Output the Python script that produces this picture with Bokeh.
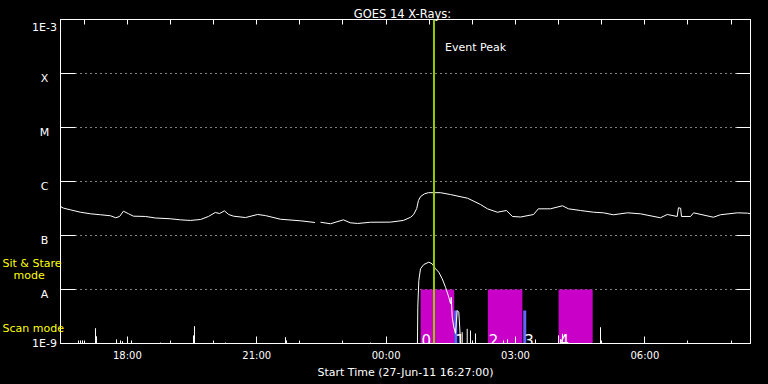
from bokeh.plotting import figure
from bokeh.models import Range1d, LogAxis, LinearAxis, FixedTicker, Span
from bokeh.core.properties import value
from bokeh.embed import file_html
from bokeh.resources import INLINE

NAN = float("nan")

# ---- data (time in hours after 27-Jun-11 16:27:00, flux in W/m^2) ----
long_t = [0.00, 0.07, 0.23, 0.46, 0.70, 0.93, 1.16, 1.28, 1.37, 1.46, 1.58, 1.69,
          1.97, 2.20, 2.55, 2.78, 3.01, 3.25, 3.43, 3.59, 3.69, 3.80, 3.90, 4.01,
          4.29, 4.57, 4.75, 5.10, 5.57, 5.90, 5.95, 6.03, 6.26, 6.56, 6.72, 6.89,
          7.19, 7.65, 7.95, 8.12, 8.19, 8.26, 8.30, 8.35, 8.44, 8.53, 8.81, 9.04,
          9.44, 9.74, 9.90, 10.13, 10.34, 10.48, 10.67, 10.97, 11.08, 11.36, 11.64,
          11.78, 12.06, 12.36, 12.59, 12.82, 13.15, 13.45, 13.91, 14.07, 14.30,
          14.33, 14.38, 14.40, 14.61, 14.68, 15.14, 15.30, 15.70, 15.93, 16.00]
long_flux = [3.44e-7, 3.21e-7, 2.99e-7, 2.70e-7, 2.52e-7, 2.42e-7, 2.32e-7, 2.13e-7,
             2.25e-7, 2.82e-7, 2.52e-7, 2.28e-7, 2.25e-7, 2.11e-7, 2.04e-7, 1.95e-7,
             1.90e-7, 1.98e-7, 2.25e-7, 2.67e-7, 2.55e-7, 2.86e-7, 2.45e-7, 2.28e-7,
             2.15e-7, 2.45e-7, 2.34e-7, 2.00e-7, 1.87e-7, 1.74e-7, NAN, 1.76e-7,
             1.65e-7, 1.95e-7, 1.72e-7, 1.67e-7, 1.76e-7, 1.77e-7, 1.90e-7, 2.18e-7,
             2.45e-7, 3.16e-7, 4.45e-7, 5.27e-7, 5.90e-7, 6.21e-7, 6.21e-7, 5.74e-7,
             4.90e-7, 3.75e-7, 3.12e-7, 2.70e-7, 2.90e-7, 2.25e-7, 2.20e-7, 2.45e-7,
             3.12e-7, 3.12e-7, 3.55e-7, 3.12e-7, 2.90e-7, 2.70e-7, 2.63e-7, 2.42e-7,
             2.63e-7, 2.52e-7, 2.13e-7, 2.45e-7, 2.25e-7, 3.26e-7, 3.20e-7, 2.25e-7,
             2.25e-7, 2.63e-7, 2.18e-7, 2.42e-7, 2.63e-7, 2.59e-7, 2.52e-7]

flare_t = [8.267, 8.285, 8.309, 8.348, 8.424, 8.540, 8.619, 8.696, 8.772, 8.851,
           8.928, 9.004, 9.043, 9.060, 9.083, 9.120, 9.159, 9.199, 9.236, 9.275, 9.287]
flare_flux = [1e-10, 4.70e-9, 1.47e-8, 2.42e-8, 2.90e-8, 3.21e-8, 2.99e-8, 2.42e-8,
              2.09e-8, 1.58e-8, 1.10e-8, 7.20e-9, 5.50e-9, 7.20e-9, 3.07e-9, 2.00e-9,
              1.53e-9, 4.08e-9, 3.80e-9, 1.14e-9, 1e-10]

spike_t = [0.417, 0.464, 0.510, 0.812, 0.835, 1.299, 1.391, 1.438, 1.646, 2.319,
           3.084, 3.107, 3.826, 5.217, 5.241, 7.188, 9.315, 9.431, 9.507, 9.623,
           10.272, 10.365, 11.014, 11.548, 11.594, 11.641, 12.522]
spike_flux = [1.14e-9, 1.14e-9, 1.14e-9, 1.92e-9, 1.36e-9, 1.19e-9, 1.14e-9, 1.10e-9,
              1.14e-9, 1.04e-9, 1.41e-9, 2.09e-9, 1.04e-9, 1.31e-9, 1.14e-9, 1.04e-9,
              1.62e-9, 1.87e-9, 1.74e-9, 1.53e-9, 1.14e-9, 1.19e-9, 1.19e-9, 1.41e-9,
              1.20e-9, 1.51e-9, 2.00e-9]

obs_start = [8.35, 9.13, 9.91, 10.73, 11.55]
obs_end = [9.13, 9.20, 10.71, 10.80, 12.34]
obs_mode = ["sit", "scan", "sit", "scan", "sit"]
obs_label = ["0", "1", "2", "3", "4"]
mode_top = {"sit": 1e-8, "scan": 4.1e-9}
mode_color = {"sit": "#c800c8", "scan": "#6464ff"}

event_peak = 8.66

x_major = [1.55, 4.55, 7.55, 10.55, 13.55]
x_major_labels = ["18:00", "21:00", "00:00", "03:00", "06:00"]
x_hours = [0.55, 1.55, 2.55, 3.55, 4.55, 5.55, 6.55, 7.55, 8.55, 9.55, 10.55,
           11.55, 12.55, 13.55, 14.55, 15.55]
y_ticks = [1e-9, 1e-8, 1e-7, 1e-6, 1e-5, 1e-4, 1e-3]
y_tick_labels = ["1E-9", "A", "B", "C", "M", "X", "1E-3"]

# ---- layout helpers (pixel -> data, used only for text placement) ----
X0, PXH = 60.0, 43.125
Y0, PXD = 19.0, 54.0
def px(xp):
    return (xp - X0) / PXH
def py(yp):
    return 10 ** (-3 - (yp - Y0) / PXD)

FONT = "DejaVu Sans"
WHITE = "#ffffff"
YEL = "#ffff00"

p = figure(width=768, height=384, x_range=Range1d(0, 16), y_range=Range1d(1e-9, 1e-3),
           y_axis_type="log", output_backend="svg", toolbar_location=None,
           min_border_left=60, min_border_right=18, min_border_top=19, min_border_bottom=41,
           background_fill_color="black", border_fill_color="black",
           outline_line_color=WHITE, title=None)

# left axis
ax = p.yaxis[0]
ax.ticker = FixedTicker(ticks=y_ticks)
ax.major_label_overrides = {t: "" for t in y_ticks}
ax.major_tick_in = 15
ax.major_tick_out = 0
ax.minor_tick_line_color = None
ax.axis_line_color = WHITE
ax.major_tick_line_color = WHITE
ax.major_label_standoff = 0

# right axis
rx = LogAxis(ticker=FixedTicker(ticks=y_ticks), major_label_overrides={t: "" for t in y_ticks},
             major_tick_in=14, major_tick_out=0, minor_tick_line_color=None,
             axis_line_color=WHITE, major_tick_line_color=WHITE, major_label_standoff=0)
p.add_layout(rx, "right")

# bottom axis
bx = p.xaxis[0]
bx.ticker = FixedTicker(ticks=x_major, minor_ticks=x_hours)
bx.major_label_overrides = dict(zip(x_major, x_major_labels))
bx.major_tick_in = 7
bx.major_tick_out = 0
bx.minor_tick_in = 3
bx.minor_tick_out = 0
bx.axis_line_color = WHITE
bx.major_tick_line_color = WHITE
bx.minor_tick_line_color = WHITE
bx.major_label_text_color = WHITE
bx.major_label_text_font = FONT
bx.major_label_text_font_size = "10px"
bx.major_label_standoff = 6
bx.axis_label = "Start Time (27-Jun-11 16:27:00)"
bx.axis_label_text_color = WHITE
bx.axis_label_text_font = FONT
bx.axis_label_text_font_size = "11px"
bx.axis_label_text_font_style = "normal"
bx.axis_label_standoff = 2

# top axis
tx = LinearAxis(ticker=FixedTicker(ticks=x_hours), major_label_overrides={t: "" for t in x_hours},
                major_tick_in=5, major_tick_out=0, minor_tick_line_color=None,
                axis_line_color=WHITE, major_tick_line_color=WHITE, major_label_standoff=0)
p.add_layout(tx, "above")

# grid
p.xgrid.visible = False
p.ygrid.ticker = FixedTicker(ticks=y_ticks[1:-1])
p.ygrid.grid_line_color = WHITE
p.ygrid.grid_line_dash = "1 4"
p.ygrid.grid_line_width = 1

# observation bars
p.quad(left=obs_start, right=obs_end, bottom=[1e-9] * len(obs_start),
       top=[mode_top[m] for m in obs_mode], fill_color=[mode_color[m] for m in obs_mode],
       line_color=None)
p.text(x=obs_start, y=[py(339)] * len(obs_start), text=obs_label, x_offset=1,
       text_font=value(FONT), text_font_size="15px", text_color=WHITE,
       text_baseline="alphabetic", text_align="left")

# GOES curves
p.line(long_t, long_flux, line_color=WHITE, line_width=1)
p.line(flare_t, flare_flux, line_color=WHITE, line_width=1)
p.segment(x0=spike_t, y0=[1e-9] * len(spike_t), x1=spike_t, y1=spike_flux,
          line_color=WHITE, line_width=1)

# event peak
p.add_layout(Span(location=event_peak, dimension="height", line_color="#99cc00", line_width=2))
p.text(x=[event_peak], y=[py(47)], text=["Event Peak"], x_offset=11, text_color=WHITE,
       text_font=value(FONT), text_font_size="11px", text_baseline="alphabetic")

# texts outside the frame (overlay level is not clipped to the frame)
p.text(x=[px(402)], y=[py(13)], text=["GOES 14 X-Rays:"], text_color=WHITE,
       text_font=value(FONT), text_font_size="11.5px", text_align="center",
       text_baseline="alphabetic", level="overlay")

shift = [0.3, 4.5, 4.5, 4.5, 4.5, 4.5, 8.3]
p.text(x=[0] * len(y_ticks), y=[t / 10 ** (s / PXD) for t, s in zip(y_ticks, shift)],
       text=y_tick_labels, x_offset=-16, text_color=WHITE, text_font=value(FONT),
       text_font_size="11px", text_align="center", text_baseline="alphabetic",
       level="overlay")

p.text(x=[px(2), px(13), px(2)], y=[py(263), py(275), py(328)],
       text=["Sit & Stare", "mode", "Scan mode"], text_color=YEL, text_font=value(FONT),
       text_font_size="11px", text_align="left", text_baseline="alphabetic",
       level="overlay")

html = file_html(p, INLINE)
html = html.replace("</head>", "<style>html,body{margin:0;padding:0;background:#000;overflow:hidden}</style></head>", 1)
open("out.html", "w").write(html)
